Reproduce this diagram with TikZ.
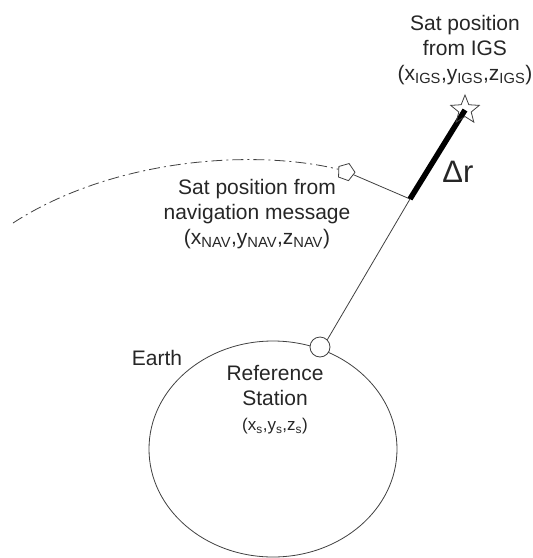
\documentclass[tikz,border=0pt]{standalone}
\usepackage{fontspec}
\setmainfont{Liberation Sans}
\setsansfont{Liberation Sans}
\usepackage{tikz}
\usetikzlibrary{shapes.geometric}

\begin{document}
\begin{tikzpicture}[x=1pt, y=-1pt, font=\sffamily\fontsize{21}{25}\selectfont,
  lbl/.style={align=center, inner sep=0pt, text=black!85},
  thinline/.style={draw=black!75, line width=0.8pt}]

\useasboundingbox (0,0) rectangle (533,558);

%% ─── Earth and reference station ────────────────────────────
\node[ellipse, thinline, minimum width=248pt, minimum height=216pt, inner sep=0pt]
  (earth) at (273,449) {};
\node[lbl] (earthlbl) at (157,358) {Earth};
\node[circle, thinline, fill=white, minimum size=20pt, inner sep=0pt]
  (station) at (320,347) {};
\node[lbl] (stationlbl) at (275,400)
  {Reference\\Station\\{\fontsize{17}{20}\selectfont(x\textsubscript{s},y\textsubscript{s},z\textsubscript{s})}};

%% ─── Satellite positions ────────────────────────────────────
\node[regular polygon, regular polygon sides=5, thinline, fill=white,
  minimum size=18pt, inner sep=0pt, rotate=-20] (navsat) at (346,172) {};
\coordinate (tip) at (410,199);
\coordinate (igspos) at (465,110);

%% Orbit
\draw[thinline, dash pattern=on 11pt off 4pt on 2pt off 4pt]
  (13,223) .. controls (110,160) and (250,148) .. (navsat.west);

%% Lines
\draw[thinline] (station.north east) -- (tip);
\draw[thinline] (navsat.east) -- (tip);
\draw[line width=5.5pt] (tip) -- (igspos);
\node[star, star points=5, star point ratio=2.3, thinline,
  minimum size=30pt, inner sep=0pt] (igssat) at (igspos) {};

%% ─── Labels ─────────────────────────────────────────────────
\node[lbl] (navlbl) at (257,214)
  {Sat position from\\navigation message\\(x\textsubscript{NAV},y\textsubscript{NAV},z\textsubscript{NAV})};
\node[lbl] (igslbl) at (465,50)
  {Sat position\\from IGS\\(x\textsubscript{IGS},y\textsubscript{IGS},z\textsubscript{IGS})};
\node[lbl, font=\sffamily\fontsize{31}{31}\selectfont] (dr) at (458,172) {Δr};

\end{tikzpicture}
\end{document}
